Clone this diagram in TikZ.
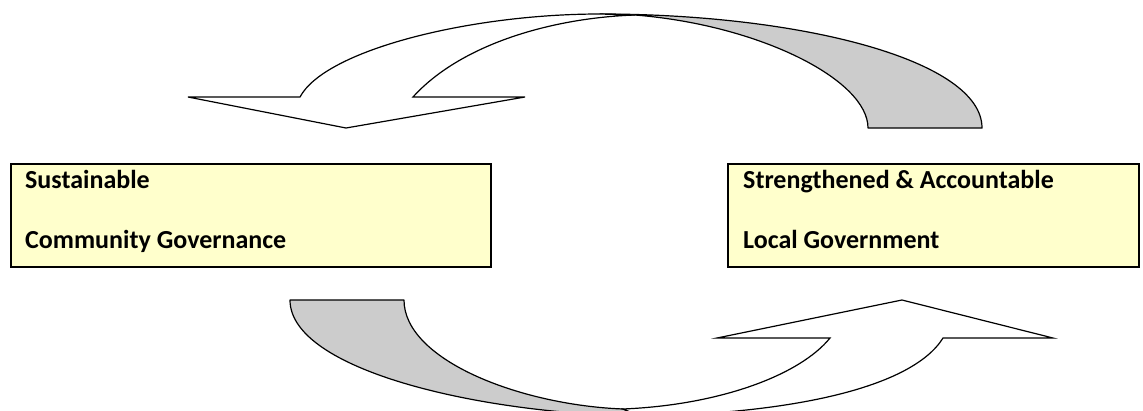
\documentclass[tikz,border=0pt]{standalone}
\usepackage{fontspec}
\setmainfont{Carlito}
\definecolor{boxyellow}{HTML}{FFFFCC}
\definecolor{arrowgrey}{HTML}{CCCCCC}
\begin{document}
\begin{tikzpicture}[x=1pt,y=-1pt,
  outcomebox/.style={draw=black,line width=1.5pt,fill=boxyellow,rectangle,inner sep=0pt},
  boxtext/.style={anchor=base west,inner sep=0pt,font=\fontsize{26}{30}\selectfont\bfseries},
  greyband/.style={draw=black,line width=1.2pt,fill=arrowgrey,line join=round},
  whiteband/.style={draw=black,line width=1.2pt,fill=white,line join=miter}]
\useasboundingbox (0,0) rectangle (1143,410);
\begin{scope}
\clip (0,0) rectangle (1143,410);
% top arrow: grey back part then white front part
\draw[greyband] (600,14) .. controls (800,14) and (982,60) .. (982,128)
  -- (868,128) .. controls (868,80) and (760,25) .. (635,15) -- cycle;
\draw[whiteband] (300,97) .. controls (325,50) and (470,14) .. (600,14)
  -- (635,15) .. controls (550,18) and (460,45) .. (413,97)
  -- (525,97) -- (346,128) -- (188,97) -- cycle;
% bottom arrow
\draw[greyband] (290,300) -- (404,300) .. controls (404,360) and (520,405) .. (623,409)
  -- (640,416) .. controls (480,414) and (290,370) .. (290,300) -- cycle;
\draw[whiteband] (623,409) .. controls (720,405) and (800,375) .. (830,338)
  -- (717,338) -- (902,300) -- (1053,338) -- (943,338)
  .. controls (912,388) and (790,414) .. (640,416) -- cycle;
\end{scope}
% outcome boxes
\node[outcomebox,minimum width=480pt,minimum height=103pt,anchor=north west] (left) at (10,163) {};
\node[outcomebox,minimum width=411pt,minimum height=103pt,anchor=north west] (right) at (727,163) {};
\node[boxtext] (l1) at (25,188) {Sustainable};
\node[boxtext] (l2) at (25,248) {Community Governance};
\node[boxtext] (r1) at (743,188) {Strengthened \& Accountable};
\node[boxtext] (r2) at (743,248) {Local Government};
\end{tikzpicture}
\end{document}
